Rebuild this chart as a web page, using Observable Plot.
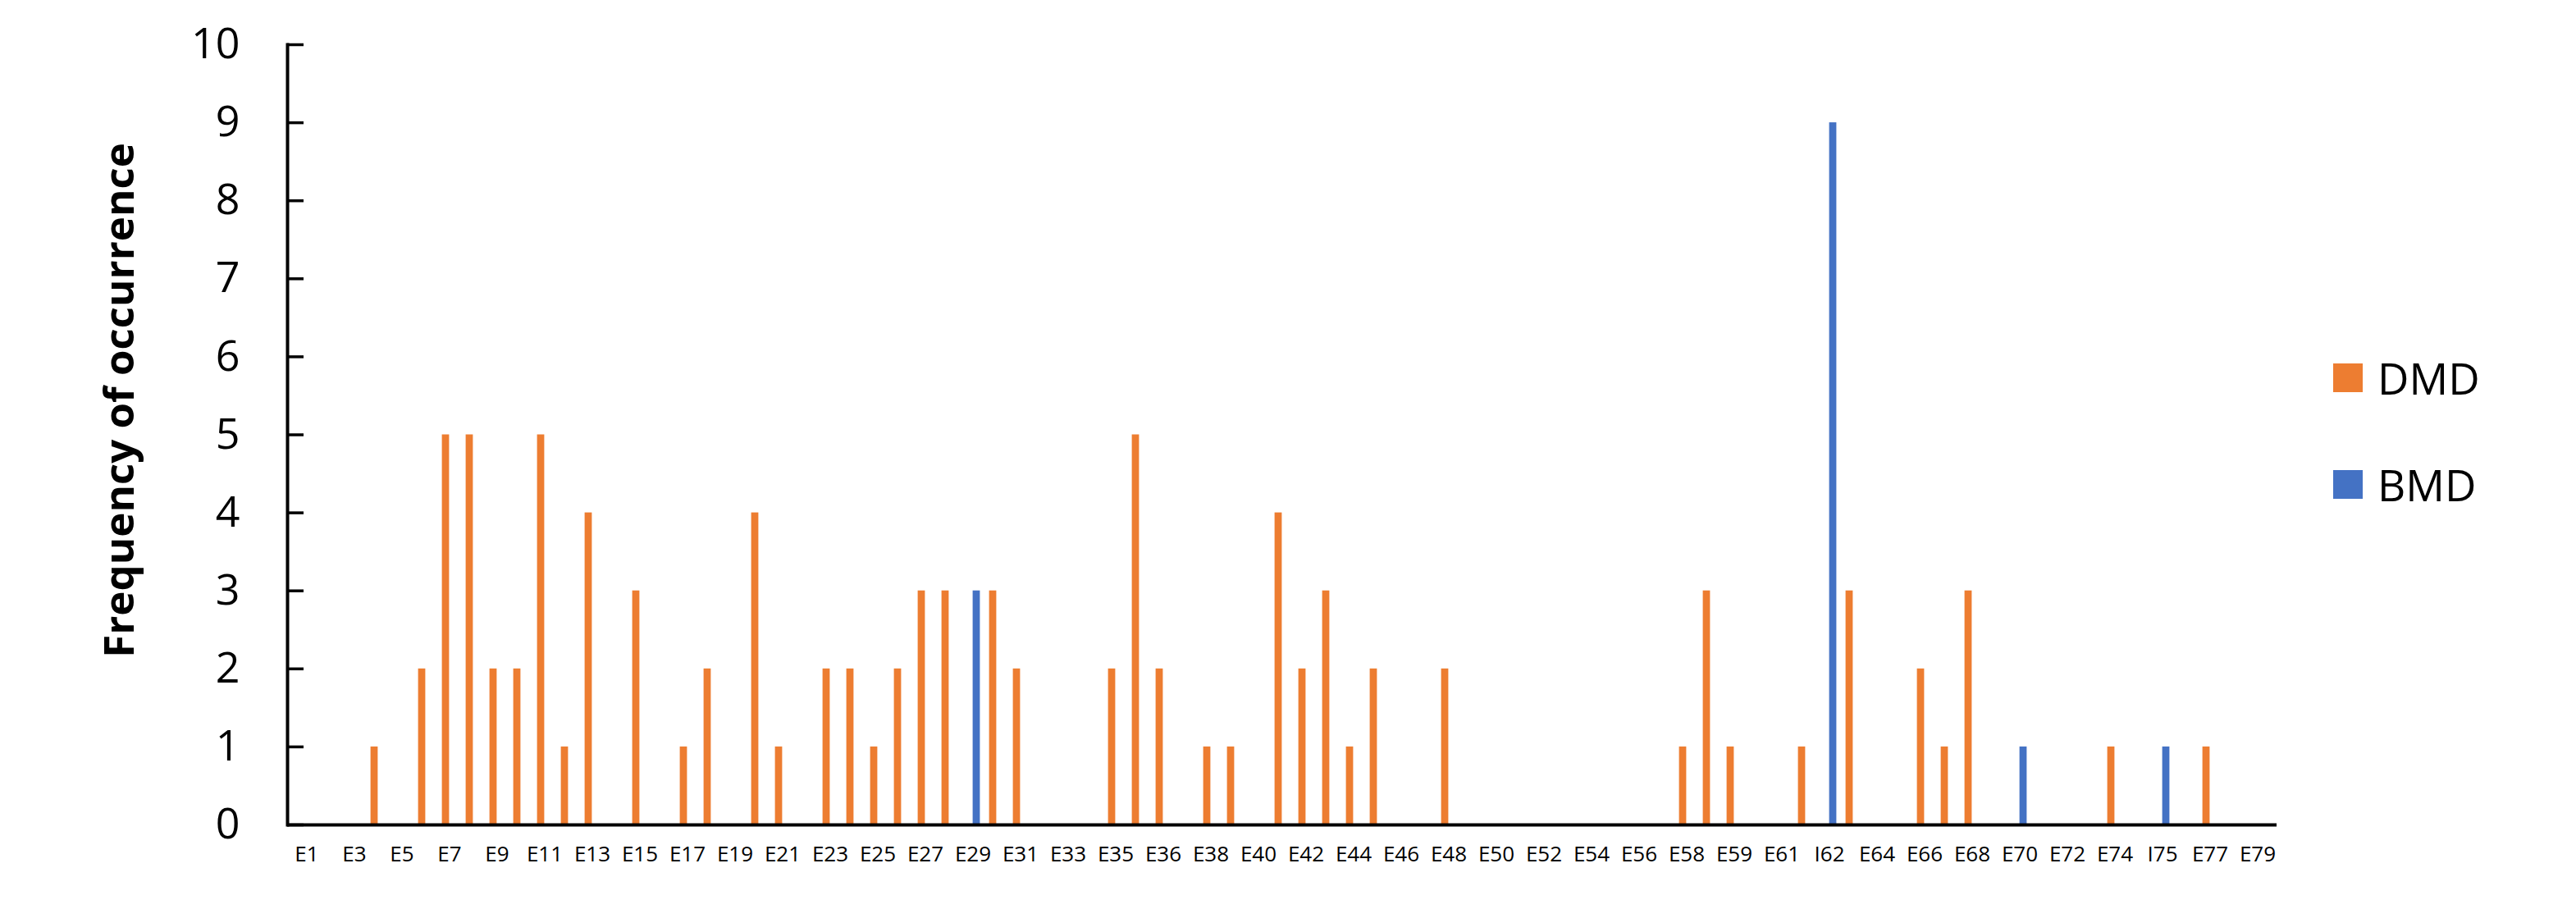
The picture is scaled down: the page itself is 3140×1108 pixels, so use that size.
<!DOCTYPE html>
<html>
<head>
<meta charset="utf-8">
<script src="https://cdn.jsdelivr.net/npm/d3@7"></script>
<script src="https://cdn.jsdelivr.net/npm/@observablehq/plot@0.6"></script>
<style>
  html, body { margin: 0; padding: 0; background: #fff; }
  #wrap { position: relative; width: 3140px; height: 1108px; font-family: "Open Sans", sans-serif; }
  #legend { position: absolute; left: 2844px; top: 428px; }
  .item { display: flex; align-items: center; height: 64px; margin-bottom: 66px; }
  .sw { width: 36px; height: 35px; margin-right: 18px; }
  .lab { font-size: 53px; color: #000; line-height: 1; }
</style>
</head>
<body>
<div id="wrap"></div>
<script>
// Categories (exons / introns) in chart order
const categories = [
  "E1","E2","E3","E4","E5","E6","E7","E8","E9","E10",
  "E11","E12","E13","E14","E15","E16","E17","E18","E19","E20",
  "E21","E22","E23","E24","E25","E26","E27","E28","E29","E30",
  "E31","E32","E33","E34","E35","I35","E36","E37","E38","E39",
  "E40","E41","E42","E43","E44","E45","E46","E47","E48","E49",
  "E50","E51","E52","E53","E54","E55","E56","E57","E58","I58",
  "E59","E60","E61","E62","I62","E63","E64","E65","E66","E67",
  "E68","E69","E70","E71","E72","E73","E74","E75","I75","E76",
  "E77","E78","E79"
];

// Labels displayed on the x axis
const tickLabels = [
  "E1","E3","E5","E7","E9","E11","E13","E15","E17","E19","E21","E23","E25","E27",
  "E29","E31","E33","E35","E36","E38","E40","E42","E44","E46","E48","E50","E52",
  "E54","E56","E58","E59","E61","I62","E64","E66","E68","E70","E72","E74","I75",
  "E77","E79"
];

// DMD frequency per category
const dmdValues = [
  0,0,0,1,0,2,5,5,2,2,
  5,1,4,0,3,0,1,2,0,4,
  1,0,2,2,1,2,3,3,0,3,
  2,0,0,0,2,5,2,0,1,1,
  0,4,2,3,1,2,0,0,2,0,
  0,0,0,0,0,0,0,0,1,3,
  1,0,0,1,0,3,0,0,2,1,
  3,0,0,0,0,0,1,0,0,0,
  1,0,0
];

// BMD frequency per category
const bmdValues = [
  0,0,0,0,0,0,0,0,0,0,
  0,0,0,0,0,0,0,0,0,0,
  0,0,0,0,0,0,0,0,3,0,
  0,0,0,0,0,0,0,0,0,0,
  0,0,0,0,0,0,0,0,0,0,
  0,0,0,0,0,0,0,0,0,0,
  0,0,0,0,9,0,0,0,0,0,
  0,0,1,0,0,0,0,0,1,0,
  0,0,0
];

const yTicks = [0,1,2,3,4,5,6,7,8,9,10];
const seriesNames = ["DMD", "BMD"];
const seriesColors = ["#ED7D31", "#4472C4"];
const yTitle = "Frequency of occurrence";

const W = 3140, H = 1108;
const ML = 350, MR = 365, MT = 54, MB = 103;
const band = (W - ML - MR) / categories.length;
const barW = 9;

const dmdRows = categories.map((c, i) => ({category: c, value: dmdValues[i]})).filter(d => d.value > 0);
const bmdRows = categories.map((c, i) => ({category: c, value: bmdValues[i]})).filter(d => d.value > 0);

const chart = Plot.plot({
  width: W,
  height: H,
  marginLeft: ML,
  marginRight: MR,
  marginTop: MT,
  marginBottom: MB,
  style: {fontFamily: "Open Sans, sans-serif", background: "#fff", color: "#000"},
  x: {domain: categories, padding: 0, label: null},
  y: {domain: [0, 10], label: null},
  marks: [
    Plot.barY(dmdRows, {x: "category", y: "value", fill: seriesColors[0],
      insetLeft: band / 2 - barW, insetRight: band / 2}),
    Plot.barY(bmdRows, {x: "category", y: "value", fill: seriesColors[1],
      insetLeft: band / 2, insetRight: band / 2 - barW}),
    Plot.axisX({ticks: tickLabels, tickSize: 0, tickPadding: 26, fontSize: 26, label: null}),
    Plot.axisY({ticks: yTicks, tickSize: -20, tickPadding: 78, fontSize: 52, strokeWidth: 3.5, label: null}),
    Plot.frame({anchor: "left", strokeWidth: 4}),
    Plot.ruleY([0], {strokeWidth: 4}),
    Plot.text([yTitle], {frameAnchor: "left", textAnchor: "middle", dx: -204, dy: -42, rotate: -90,
      fontSize: 51, fontWeight: "bold", fill: "#000"})
  ]
});

const wrap = document.getElementById("wrap");
wrap.appendChild(chart);

const legend = document.createElement("div");
legend.id = "legend";
seriesNames.forEach((name, i) => {
  const item = document.createElement("div");
  item.className = "item";
  const sw = document.createElement("div");
  sw.className = "sw";
  sw.style.background = seriesColors[i];
  const lab = document.createElement("span");
  lab.className = "lab";
  lab.textContent = name;
  item.appendChild(sw);
  item.appendChild(lab);
  legend.appendChild(item);
});
wrap.appendChild(legend);
</script>
</body>
</html>
